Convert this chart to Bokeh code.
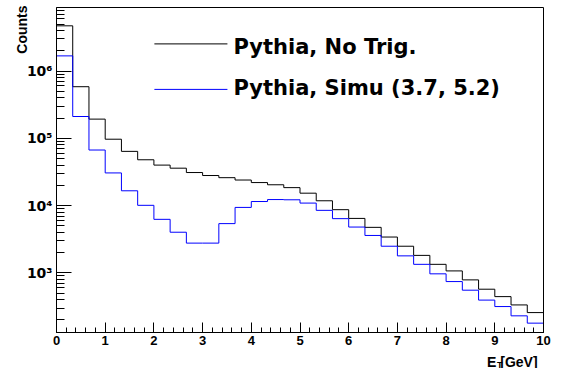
import math
import numpy as np
from bokeh.plotting import figure
from bokeh.models import Range1d, FixedTicker, Label, Title
from bokeh.embed import file_html
from bokeh.resources import INLINE

# ---- data ----
x_min, x_max = 0.0, 10.0
n_bins = 30
no_trig = [4.7e6, 5.85e5, 1.93e5, 9.7e4, 6.4e4, 4.8e4, 4.0e4, 3.6e4, 3.1e4, 2.8e4,
           2.6e4, 2.4e4, 2.2e4, 2.04e4, 1.85e4, 1.53e4, 1.18e4, 8.7e3, 6.45e3, 4.75e3,
           3.41e3, 2.49e3, 1.82e3, 1.34e3, 1.07e3, 787, 572, 444, 334, 257]
simu = [1.68e6, 2.11e5, 6.7e4, 3.06e4, 1.66e4, 1.01e4, 6.25e3, 4.02e3, 2.77e3, 2.77e3,
        5.4e3, 9.4e3, 1.15e4, 1.23e4, 1.22e4, 1.09e4, 8.5e3, 6.4e3, 4.8e3, 3.6e3,
        2.49e3, 1.79e3, 1.34e3, 968, 743, 553, 394, 316, 230, 179]
labels = ["Pythia, No Trig.", "Pythia, Simu (3.7, 5.2)"]
colors = ["black", "#0000ff"]
x_ticks = list(range(0, 11))
y_ticks = [1e3, 1e4, 1e5, 1e6]
y_tick_labels = ["10\u00b3", "10\u2074", "10\u2075", "10\u2076"]
y_title = "Counts"
x_title_main = "E  [GeV]"
x_title_sub = "T"
y_lo, y_hi = 130, 8.8e6

edges = np.linspace(x_min, x_max, n_bins + 1)

p = figure(width=551, height=368, output_backend="svg", toolbar_location=None,
           y_axis_type="log", x_range=Range1d(x_min, x_max), y_range=Range1d(y_lo, y_hi),
           min_border_left=56, min_border_right=8, min_border_top=7, min_border_bottom=36)
p.xgrid.visible = False
p.ygrid.visible = False
p.outline_line_color = "black"
p.outline_line_width = 1
p.background_fill_color = "white"
p.border_fill_color = "white"

# histogram outlines (step shape built from bin edges and contents)
for vals, c in zip([no_trig, simu], colors):
    xs = np.repeat(edges, 2)[1:-1]
    ys = np.repeat(np.asarray(vals, dtype=float), 2)
    p.line(x=xs, y=ys, line_color=c, line_width=1)

# legend key lines, placed at fractions of the plot frame (through the axis scales)
def frame_x(fx):
    return x_min + fx * (x_max - x_min)

def frame_y(fy):
    lo, hi = math.log10(y_lo), math.log10(y_hi)
    return 10 ** (lo + fy * (hi - lo))

leg_key_x = (0.201, 0.351)
leg_key_fy = [0.888, 0.748]
for c, fy in zip(colors, leg_key_fy):
    p.line(x=[frame_x(leg_key_x[0]), frame_x(leg_key_x[1])],
           y=[frame_y(fy), frame_y(fy)], line_color=c, line_width=1)

# axes
xa = p.xaxis[0]
ya = p.yaxis[0]
for ax in (xa, ya):
    ax.axis_line_color = "black"
    ax.major_tick_line_color = "black"
    ax.minor_tick_line_color = "black"
    ax.major_tick_out = 0
    ax.minor_tick_out = 0
    ax.major_label_text_font_style = "bold"
    ax.major_label_text_color = "black"

xa.ticker = FixedTicker(ticks=x_ticks,
                        minor_ticks=[i / 5 for i in range(0, 51)])
xa.major_tick_in = 10
xa.minor_tick_in = 5
xa.major_label_text_font = "Liberation Sans"
xa.major_label_text_font_size = "13px"
xa.major_label_standoff = 3

minor_y = [m * 10 ** k for k in range(2, 7) for m in range(2, 10)]
minor_y = [v for v in minor_y if y_lo <= v <= y_hi]
ya.ticker = FixedTicker(ticks=y_ticks, minor_ticks=minor_y)
ya.major_tick_in = 15
ya.minor_tick_in = 8
ya.major_label_text_font = "DejaVu Sans"
ya.major_label_text_font_size = "14px"
ya.major_label_standoff = 4
ya.major_label_overrides = {int(t): s for t, s in zip(y_ticks, y_tick_labels)}

title_font = dict(text_font="Liberation Sans", text_font_style="bold", text_color="black")

# legend texts (frame-relative screen units)
leg_text_y = [286, 244.3]
for lab, ty in zip(labels, leg_text_y):
    p.add_layout(Label(x=177, y=ty, x_units="screen", y_units="screen", text=lab,
                       text_align="left", text_baseline="alphabetic",
                       text_font="DejaVu Sans", text_font_style="bold",
                       text_font_size="21px", text_color="black"))

# y-axis title: vertical title at the top end of the left side
p.add_layout(Title(text=y_title, align="right", vertical_align="bottom",
                   standoff=-12, offset=-2, text_font_size="14px", **title_font), "left")
# x-axis title, right aligned under the axis (side panels are not clipped)
p.add_layout(Label(x=485, y=2, x_units="screen", y_units="screen", text=x_title_main,
                   text_align="right", text_baseline="alphabetic",
                   text_font_size="14px", **title_font), "below")
p.add_layout(Label(x=-46.5, y=-32, x_units="screen", y_units="screen", text=x_title_sub,
                   text_align="left", text_baseline="alphabetic",
                   text_font_size="9px", **title_font), "right")

open("out.html", "w").write(file_html(p, INLINE))
